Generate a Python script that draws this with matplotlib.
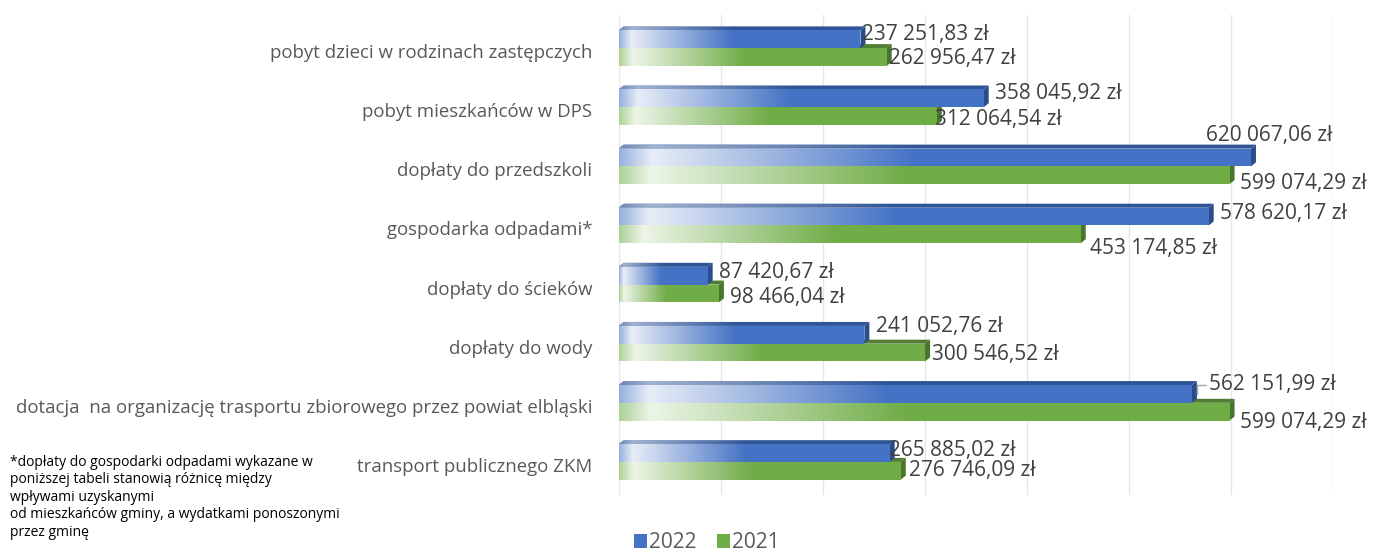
import numpy as np
import matplotlib
matplotlib.use("Agg")
import matplotlib.pyplot as plt
from matplotlib.patches import Polygon, Rectangle

# ---------------- data ----------------
categories = [
    "pobyt dzieci w rodzinach zastępczych",
    "pobyt mieszkańców w DPS",
    "dopłaty do przedszkoli",
    "gospodarka odpadami*",
    "dopłaty do ścieków",
    "dopłaty do wody",
    "dotacja  na organizację trasportu zbiorowego przez powiat elbląski",
    "transport publicznego ZKM",
]
values_2022 = [237251.83, 358045.92, 620067.06, 578620.17, 87420.67, 241052.76, 562151.99, 265885.02]
values_2021 = [262956.47, 312064.54, 599074.29, 453174.85, 98466.04, 300546.52, 599074.29, 276746.09]
series_names = ["2022", "2021"]

footnote = ("*dopłaty do gospodarki odpadami wykazane w\n"
            "poniższej tabeli stanowią różnicę między\n"
            "wpływami uzyskanymi\n"
            "od mieszkańców gminy, a wydatkami ponoszonymi\n"
            "przez gminę")

# label offsets (pixels, style only)
off_2022 = [(-3, 5), (6, 5), (-50, 22), (6, 3), (6, 3), (7, 8), (12, 9), (-6, 3)]
off_2021 = [(-3, -2), (-7, -3), (5, -8), (4, -14), (6, -4), (2, -2), (5, -11), (3, 0)]

plt.rcParams["font.family"] = ["Open Sans", "DejaVu Sans"]

W, H = 1373, 555
fig = plt.figure(figsize=(W / 100, H / 100), dpi=100)
ax = fig.add_axes([618.5 / W, 60 / H, 714 / W, 480 / H])

XMAX = 700000
ax.set_xlim(0, XMAX)
ax.set_ylim(7.56, -0.56)

blue = "#4472C4"
green = "#70AD47"
blue_dark = "#2F5597"
green_dark = "#507E32"
blue_side = "#2B4C8C"
green_side = "#4A752D"

y = np.arange(len(categories))
bh = 0.30

# gridlines
for gx in np.arange(0, XMAX + 1, 100000):
    ax.axvline(gx, color="#e6e6e6", lw=1.0, zorder=0)

# pixel -> data conversions for 3D faces
px_x = XMAX / 714.0
px_y = 8.12 / 480.0
dxd = 5 * px_x
dyd = 4 * px_y


def white_profile(n=256, lo=0.05, hi=0.47, amax=0.88, a0=0.45):
    t = np.linspace(0, 1, n)
    a = np.interp(t, [0, lo, hi, 1], [a0, amax, 0.0, 0.0])
    img = np.ones((1, n, 4))
    img[..., 3] = a
    return img


def grad_fill(patch, x0, x1, y0, y1, amax=0.88, a0=0.45, z=3):
    ax.add_patch(patch)
    im = ax.imshow(white_profile(amax=amax, a0=a0), extent=[x0, x1, y1, y0],
                   aspect="auto", interpolation="bilinear", zorder=z + 0.1)
    im.set_clip_path(patch)


def draw_bar(v, yc, col, dark, side, z):
    top = yc - bh / 2
    bot = yc + bh / 2
    tf = Polygon([(0, top), (v, top), (v + dxd, top - dyd), (dxd, top - dyd)],
                 closed=True, facecolor=dark, edgecolor="none", zorder=z)
    grad_fill(tf, 0, v + dxd, top - dyd, top, amax=0.55, a0=0.3, z=z)
    rf = Polygon([(v, top), (v + dxd, top - dyd), (v + dxd, bot - dyd), (v, bot)],
                 closed=True, facecolor=side, edgecolor="none", zorder=z + 0.2)
    ax.add_patch(rf)
    ff = Rectangle((0, top), v, bh, facecolor=col, edgecolor="none", zorder=z + 0.3)
    grad_fill(ff, 0, v, top, bot, z=z + 0.3)


for i in range(len(categories)):
    draw_bar(values_2021[i], y[i] + bh / 2, green, green_dark, green_side, 3 + i * 0.01)
    draw_bar(values_2022[i], y[i] - bh / 2, blue, blue_dark, blue_side, 4 + i * 0.01)


def fmt(v):
    s = f"{v:,.2f}".replace(",", " ").replace(".", ",")
    return s + " zł"


for i in range(len(categories)):
    v = values_2022[i]
    dx, dy = off_2022[i]
    kw = {}
    if i == 6:
        kw = dict(arrowprops=dict(arrowstyle="-", color="#a6a6a6", lw=1.0,
                                  connectionstyle="angle,angleA=0,angleB=90,rad=0",
                                  shrinkA=0, shrinkB=0))
    ax.annotate(fmt(v), xy=(v + dxd, y[i] - bh / 2), xytext=(dx, dy),
                textcoords="offset pixels", ha="left", va="center",
                fontsize=15, color="#404040", zorder=10, annotation_clip=False, **kw)
    v = values_2021[i]
    dx, dy = off_2021[i]
    ax.annotate(fmt(v), xy=(v + dxd, y[i] + bh / 2), xytext=(dx, dy),
                textcoords="offset pixels", ha="left", va="center",
                fontsize=15, color="#404040", zorder=10, annotation_clip=False)

ax.set_yticks(y + 0.05)
ax.set_yticklabels(categories, fontsize=13.4, color="#595959")
ax.tick_params(axis="y", length=0, pad=19)
ax.set_xticks([])
for s in ax.spines.values():
    s.set_visible(False)

# legend
hb = Rectangle((0, 0), 1, 1, facecolor=blue, edgecolor="none")
hg = Rectangle((0, 0), 1, 1, facecolor=green, edgecolor="none")
fig.legend([hb, hg], series_names, loc="center", bbox_to_anchor=(707 / W, 1 - 543 / H),
           ncol=2, frameon=False, fontsize=15, handlelength=0.6, handleheight=0.65,
           handletextpad=0.12, columnspacing=1.0, labelcolor="#595959",
           borderpad=0.1)

fig.text(10 / W, 1 - 455 / H, footnote, ha="left", va="top", fontsize=10,
         color="#000000", linespacing=1.22)

fig.savefig("out.png", dpi=100)
